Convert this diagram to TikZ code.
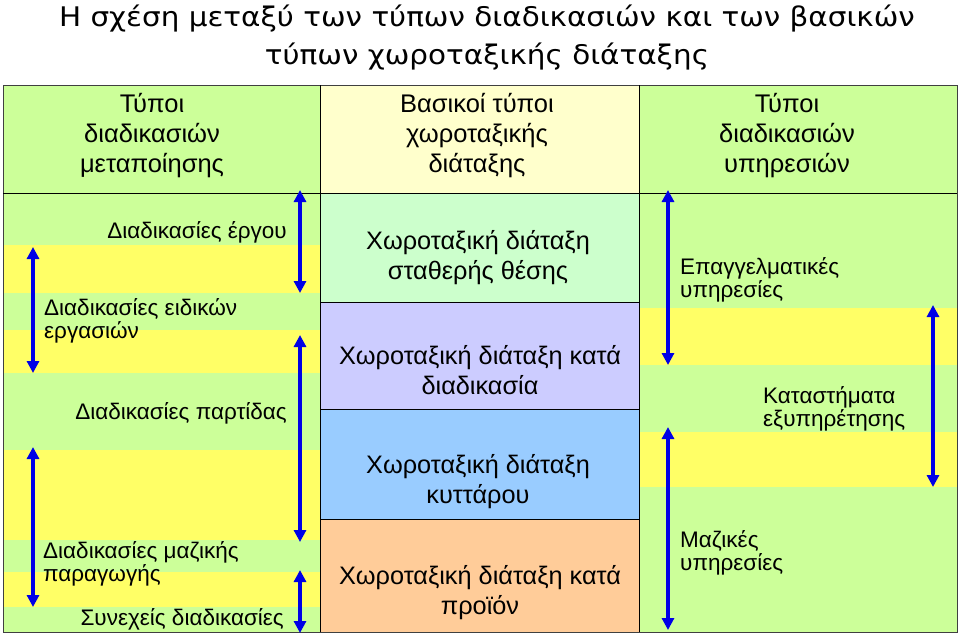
\documentclass[tikz,border=0pt]{standalone}
\usepackage{fontspec}
\setmainfont{Liberation Sans}
\newfontfamily\titlefont[FakeStretch=1.09]{DejaVu Sans}
\usetikzlibrary{arrows.meta, positioning}
\definecolor{procgreen}{HTML}{CCFF99}
\definecolor{procyellow}{HTML}{FFFF66}
\definecolor{headcream}{HTML}{FFFFCC}
\definecolor{fixedgreen}{HTML}{CCFFCC}
\definecolor{proclilac}{HTML}{CCCCFF}
\definecolor{cellblue}{HTML}{99CCFF}
\definecolor{prodpeach}{HTML}{FFCC99}
\definecolor{rangeblue}{HTML}{0000E6}
\tikzstyle{title} = [font=\titlefont\fontsize{27}{38}\selectfont, align=center, inner sep=0pt]
\tikzstyle{head} = [font=\fontsize{25.5}{30}\selectfont, align=center, inner sep=0pt]
\tikzstyle{layout} = [font=\fontsize{25.3}{30}\selectfont, align=center, inner sep=0pt]
\tikzstyle{proc} = [font=\fontsize{22.5}{23.5}\selectfont, align=left, inner sep=0pt]
\tikzstyle{rangearrow} = [{Triangle[length=12pt,width=12pt]}-{Triangle[length=12pt,width=12pt]}, line width=3.5pt, draw=rangeblue]

\begin{document}
\begin{tikzpicture}[x=1pt, y=-1pt]
  \useasboundingbox (0,0) rectangle (959,635);

  \fill[procgreen] (3,85) rectangle (320,632);
  \foreach \ya/\yb in {245/293, 330/373, 450/540, 572/607}
    \fill[procyellow] (3,\ya) rectangle (320,\yb);
  \fill[procgreen] (639,85) rectangle (957,632);
  \foreach \ya/\yb in {308/365, 432/487}
    \fill[procyellow] (639,\ya) rectangle (957,\yb);
  \fill[headcream] (320,85) rectangle (639,193);
  \fill[fixedgreen] (320,193) rectangle (639,302);
  \fill[proclilac] (320,302) rectangle (639,409);
  \fill[cellblue] (320,409) rectangle (639,519);
  \fill[prodpeach] (320,519) rectangle (639,632);

  \draw[black!75] (3,85) rectangle (957,632);
  \draw (3,193) -- (957,193);
  \draw (320,85) -- (320,632);
  \draw (639,85) -- (639,632);
  \foreach \y in {302, 409, 519}
    \draw (320,\y) -- (639,\y);

  \node[title] (title) at (487,38) {Η σχέση μεταξύ των τύπων διαδικασιών και των βασικών\\τύπων χωροταξικής διάταξης};

  \node[head] (manuf) at (152,136) {Τύποι\\διαδικασιών\\μεταποίησης};
  \node[head] (basic) at (477,136) {Βασικοί τύποι\\χωροταξικής\\διάταξης};
  \node[head] (serv) at (787,136) {Τύποι\\διαδικασιών\\υπηρεσιών};

  \node[layout] (fixed) at (478,258) {Χωροταξική διάταξη\\σταθερής θέσης};
  \node[layout] (process) at (480,370) {Χωροταξική διάταξη κατά\\διαδικασία};
  \node[layout] (cell) at (478,482) {Χωροταξική διάταξη\\κυττάρου};
  \node[layout] (product) at (480,593) {Χωροταξική διάταξη κατά\\προϊόν};

  \node[proc, anchor=east] (project) at (287,232) {Διαδικασίες έργου};
  \node[proc, anchor=west] (jobbing) at (44,321) {Διαδικασίες ειδικών\\εργασιών};
  \node[proc, anchor=east] (batch) at (287,413) {Διαδικασίες παρτίδας};
  \node[proc, anchor=west] (mass) at (43,564) {Διαδικασίες μαζικής\\παραγωγής};
  \node[proc, anchor=east] (continuous) at (284,619) {Συνεχείς διαδικασίες};

  \node[proc, anchor=west] (professional) at (680,280) {Επαγγελματικές\\υπηρεσίες};
  \node[proc, anchor=west] (shop) at (763,409) {Καταστήματα\\εξυπηρέτησης};
  \node[proc, anchor=west] (massserv) at (680,553) {Μαζικές\\υπηρεσίες};

  \coordinate (jobbing-top) at (33,247);
  \coordinate (jobbing-bot) at (33,373);
  \coordinate (project-top) at (300,190);
  \coordinate (project-bot) at (300,293);
  \coordinate (mass-top) at (33,447);
  \coordinate (mass-bot) at (33,607);
  \coordinate (batch-top) at (300,335);
  \coordinate (batch-bot) at (300,542);
  \coordinate (continuous-top) at (300,570);
  \coordinate (continuous-bot) at (300,633);
  \coordinate (professional-top) at (668,190);
  \coordinate (professional-bot) at (668,365);
  \coordinate (shop-top) at (933,305);
  \coordinate (shop-bot) at (933,487);
  \coordinate (massserv-top) at (668,427);
  \coordinate (massserv-bot) at (668,630);

  \draw[rangearrow] (jobbing-top) -- (jobbing-bot);
  \draw[rangearrow] (project-top) -- (project-bot);
  \draw[rangearrow] (mass-top) -- (mass-bot);
  \draw[rangearrow] (batch-top) -- (batch-bot);
  \draw[rangearrow] (continuous-top) -- (continuous-bot);
  \draw[rangearrow] (professional-top) -- (professional-bot);
  \draw[rangearrow] (shop-top) -- (shop-bot);
  \draw[rangearrow] (massserv-top) -- (massserv-bot);
\end{tikzpicture}
\end{document}
